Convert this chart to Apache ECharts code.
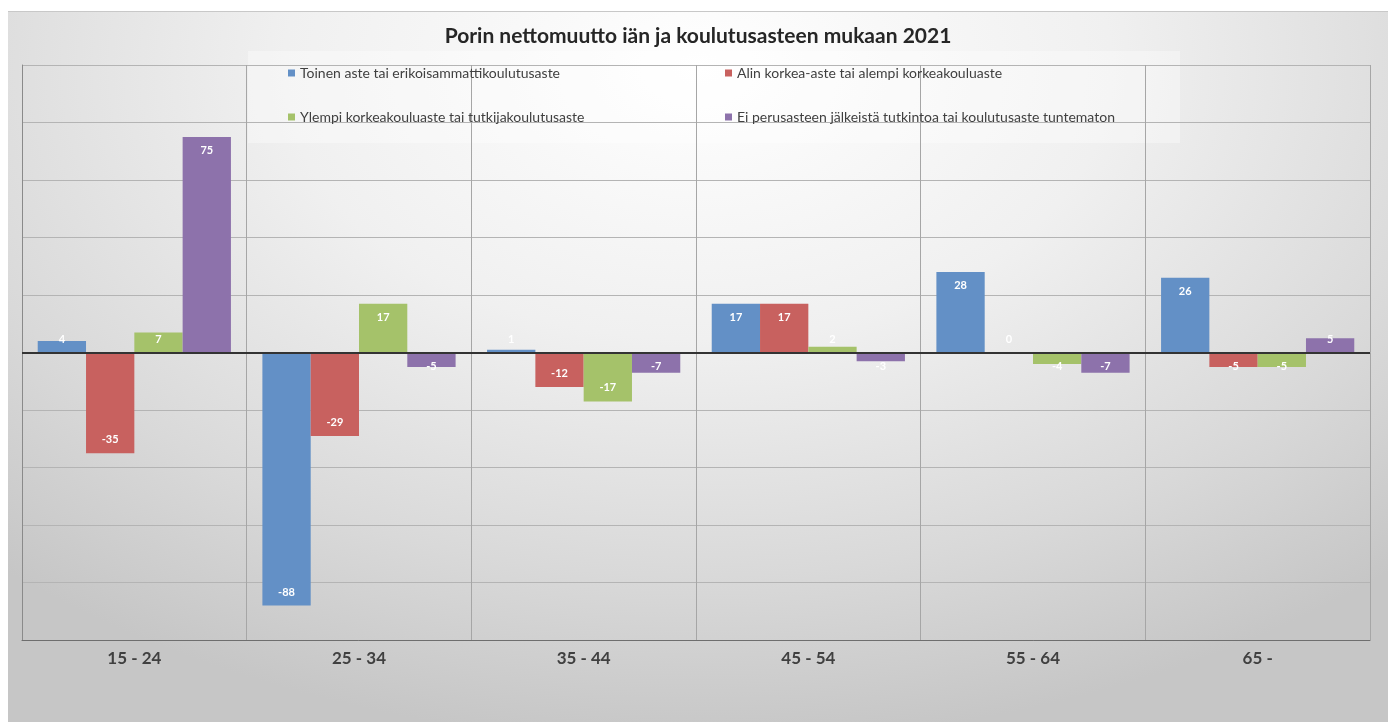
<!DOCTYPE html>
<html>
<head>
<meta charset="utf-8">
<script src="https://cdn.jsdelivr.net/npm/echarts@6/dist/echarts.min.js"></script>
<style>
  html, body { margin: 0; padding: 0; background: #ffffff; }
  #frame {
    position: absolute; left: 8px; top: 11px; width: 1380px; height: 711px;
    border-top: 1px solid #c8c8c8;
    background: radial-gradient(ellipse 75% 95% at 50% 8%, #ffffff 0%, #f0f0f0 40%, #d9d9d9 75%, #c6c6c6 100%);
  }
  #main { width: 1380px; height: 711px; }
</style>
</head>
<body>
<div id="frame"><div id="main"></div></div>
<script>
// ikäryhmät
var categories = ['15 - 24', '25 - 34', '35 - 44', '45 - 54', '55 - 64', '65 -'];
var seriesNames = [
  'Toinen aste tai erikoisammattikoulutusaste',
  'Alin korkea-aste tai alempi korkeakouluaste',
  'Ylempi korkeakouluaste tai tutkijakoulutusaste',
  'Ei perusasteen jälkeistä tutkintoa tai koulutusaste tuntematon'
];
var toinenAste = [4, -88, 1, 17, 28, 26];
var alinKorkea = [-35, -29, -12, 17, 0, -5];
var ylempiKorkea = [7, 17, -17, 2, -4, -5];
var eiPerusaste = [75, -5, -7, -3, -7, 5];

var colors = ['#6390c6', '#c8615f', '#a5c26a', '#8d72ab'];
var font = 'Lato, "Open Sans", sans-serif';

var myChart = echarts.init(document.getElementById('main'));

// label paikka kuten excelissä: isot palkit "inside end", pienet nollaviivan viereen
function withLabels(values) {
  return values.map(function (v) {
    var pos;
    if (Math.abs(v) > 7) {
      pos = v >= 0 ? 'insideTop' : 'insideBottom';
    } else {
      pos = v >= 0 ? 'insideBottom' : 'insideTop';
    }
    return { value: v, label: { position: pos } };
  });
}

function makeSeries(i, values) {
  var s = {
    name: seriesNames[i],
    type: 'bar',
    data: withLabels(values),
    barGap: '0%',
    barCategoryGap: '14%',
    itemStyle: { color: colors[i] },
    label: {
      show: true,
      color: '#ffffff',
      fontSize: 11,
      fontWeight: 'bold',
      fontFamily: font,
      distance: 8
    }
  };
  return s;
}

var series = [
  makeSeries(0, toinenAste),
  makeSeries(1, alinKorkea),
  makeSeries(2, ylempiKorkea),
  makeSeries(3, eiPerusaste)
];
// nollaviiva
series[3].markLine = {
  silent: true,
  symbol: ['none', 'none'],
  label: { show: false },
  lineStyle: { color: '#333333', width: 2, type: 'solid' },
  data: [{ yAxis: 0 }],
  z: 10
};

var legendText = { fontSize: 14, color: '#404040', fontFamily: font, padding: [0, 0, 0, 0] };

var option = {
  backgroundColor: 'transparent',
  animation: false,
  title: {
    text: 'Porin nettomuutto iän ja koulutusasteen mukaan 2021',
    left: 'center',
    top: 9,
    textStyle: { fontSize: 21, fontWeight: 'bold', color: '#262626', fontFamily: font }
  },
  graphic: [{
    type: 'rect',
    left: 240, top: 39,
    shape: { width: 932, height: 92 },
    style: { fill: 'rgba(255,255,255,0.35)' },
    silent: true, z: 0
  }],
  legend: [{
    data: [seriesNames[0], seriesNames[2]],
    orient: 'vertical',
    left: 275, top: 49,
    itemWidth: 7, itemHeight: 7, itemGap: 30,
    icon: 'rect',
    textStyle: legendText
  }, {
    data: [seriesNames[1], seriesNames[3]],
    orient: 'vertical',
    left: 712, top: 49,
    itemWidth: 7, itemHeight: 7, itemGap: 30,
    icon: 'rect',
    textStyle: legendText
  }],
  grid: { left: 14, right: 18, top: 53, bottom: 83 },
  xAxis: {
    type: 'category',
    data: categories,
    axisLine: { onZero: false, lineStyle: { color: '#6e6e6e', width: 1 } },
    axisTick: { show: false },
    splitLine: { show: true, interval: 0, lineStyle: { color: '#a6a6a6', width: 1 } },
    axisLabel: { fontSize: 17, fontWeight: 'bold', color: '#404040', fontFamily: font, margin: 10 }
  },
  yAxis: {
    type: 'value',
    min: -100, max: 100, interval: 20,
    axisLabel: { show: false },
    axisTick: { show: false },
    axisLine: { show: true, lineStyle: { color: '#8a8a8a' } },
    splitLine: { lineStyle: { color: '#b4b4b4', width: 1 } }
  },
  series: series
};

myChart.setOption(option);
</script>
</body>
</html>
